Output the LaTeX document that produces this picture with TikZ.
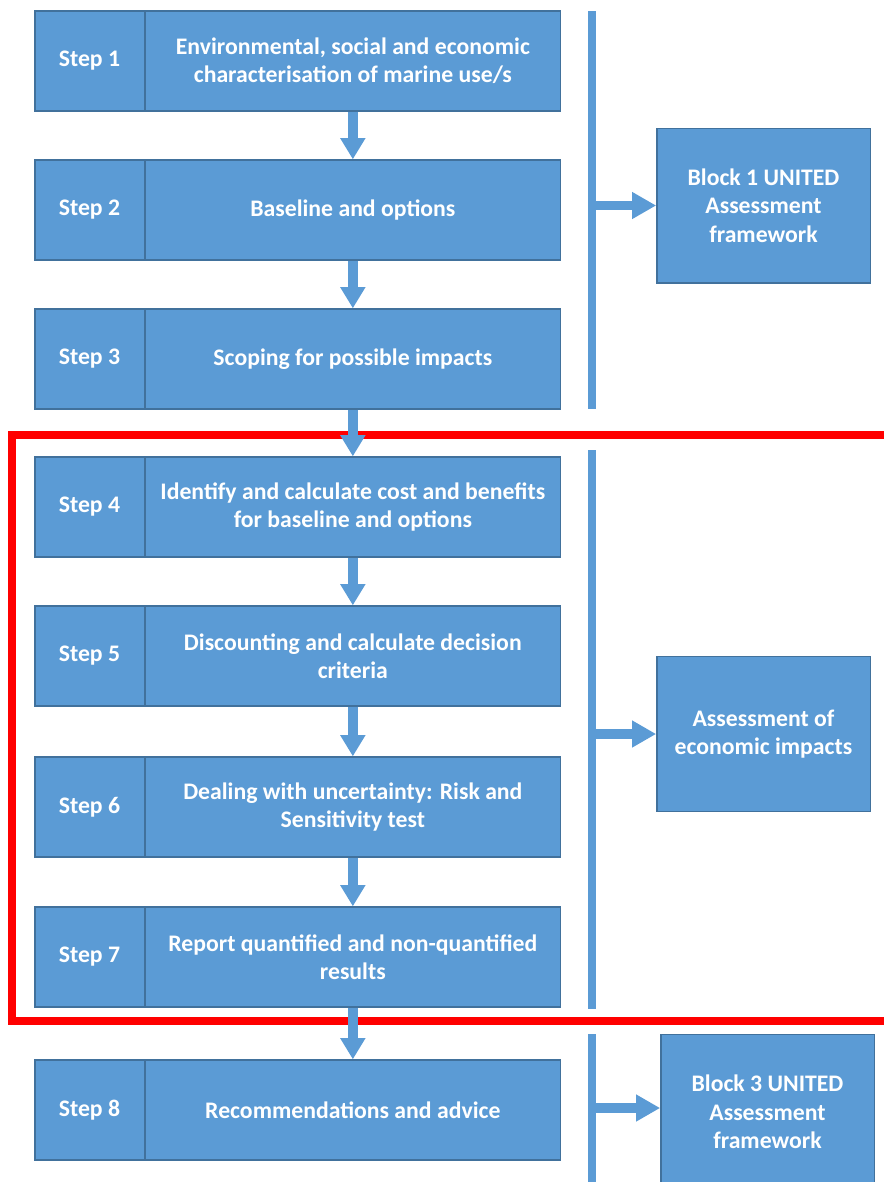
\documentclass[tikz,border=0pt]{standalone}
\usepackage{fontspec}
\setmainfont{Carlito}
\usepackage{xcolor}
\usetikzlibrary{arrows.meta, positioning}

\definecolor{boxblue}{HTML}{5B9BD5}
\definecolor{boxedge}{HTML}{41719C}
\definecolor{framered}{HTML}{FF0000}

\tikzset{
  box/.style={draw=boxedge, fill=boxblue, line width=1pt, inner sep=0pt,
    text=white, align=center, font=\bfseries\fontsize{17.8}{21.3}\selectfont},
  labelbox/.style={box, minimum width=82pt, minimum height=75pt},
  textbox/.style={box, minimum width=311pt, minimum height=75pt},
  blockbox/.style={box, minimum width=160pt, minimum height=116pt},
  flow/.style={boxblue, line width=7pt,
    -{Triangle[length=16pt, width=18pt]}},
  sideflow/.style={boxblue, line width=7pt,
    -{Triangle[length=18pt, width=19pt]}},
  bar/.style={boxblue, line width=6pt},
}

\begin{document}
\begin{tikzpicture}[x=0.75pt, y=-0.75pt]
    \useasboundingbox (0,0) rectangle (883,1182);

    % Steps
    \foreach \i/\y/\txt in {
        1/61/{Environmental, social and economic\\characterisation of marine use/s},
        2/210/{Baseline and options},
        3/359/{Scoping for possible impacts},
        4/507/{Identify and calculate cost and benefits\\for baseline and options},
        5/656/{Discounting and calculate decision\\criteria},
        6/807/{Dealing with uncertainty: Risk and\\Sensitivity test},
        7/957/{Report quantified and non-quantified\\results},
        8/1110/{Recommendations and advice}}{
        \node[labelbox] (s\i) at (89.5,\y) {Step \i};
        \node[textbox, right=0pt of s\i] (t\i) {\txt};
    }

    % Blocks
    \node[blockbox] (blk1) at (763.5,205.5) {Block 1 UNITED\\Assessment\\framework};
    \node[blockbox] (blk2) at (763.5,734) {Assessment of\\economic impacts};
    \node[blockbox] (blk3) at (767.5,1112) {Block 3 UNITED\\Assessment\\framework};

    % Side bars
    \coordinate (bar1top) at (592,11);
    \coordinate (bar1bot) at (592,409);
    \coordinate (bar2top) at (592,450);
    \coordinate (bar2bot) at (592,1009);
    \coordinate (bar3top) at (592,1034);
    \coordinate (bar3bot) at (592,1182);
    \draw[bar] (bar1top) -- (bar1bot);
    \draw[bar] (bar2top) -- (bar2bot);
    \draw[bar] (bar3top) -- (bar3bot);

    % Red frame
    \draw[framered, line width=6pt] (890,435) -- (12,435) -- (12,1021) -- (890,1021);

    % Arrows
    \foreach \a/\b in {1/2,2/3,3/4,4/5,5/6,6/7,7/8}
        \draw[flow] (t\a.south) -- (t\b.north);
    \draw[sideflow] (blk1.west -| bar1top) -- (blk1.west);
    \draw[sideflow] (blk2.west -| bar2top) -- (blk2.west);
    \draw[sideflow] ([yshift=3pt]blk3.west -| bar3top) -- ([yshift=3pt]blk3.west);
\end{tikzpicture}
\end{document}
